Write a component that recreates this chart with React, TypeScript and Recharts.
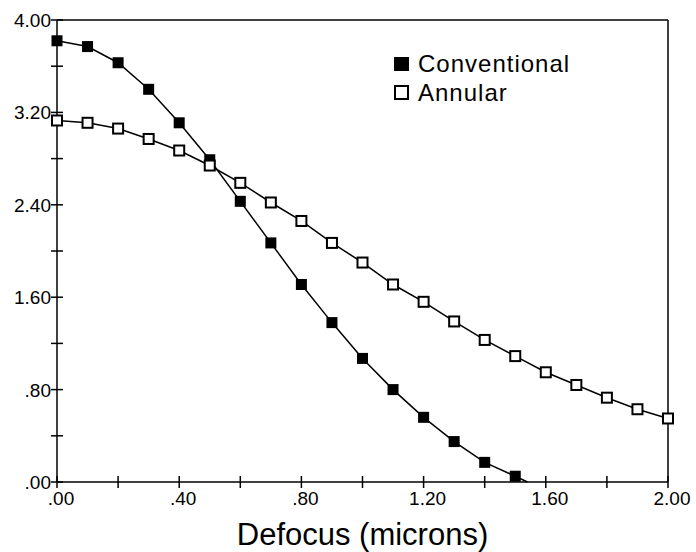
import { LineChart, Line, XAxis, YAxis, ReferenceLine } from 'recharts';

const defocus = [0, 0.1, 0.2, 0.3, 0.4, 0.5, 0.6, 0.7, 0.8, 0.9, 1.0, 1.1, 1.2, 1.3, 1.4, 1.5, 1.6, 1.7, 1.8, 1.9, 2.0];
const conventional = [3.82, 3.77, 3.63, 3.4, 3.11, 2.79, 2.43, 2.07, 1.71, 1.38, 1.07, 0.8, 0.56, 0.35, 0.17, 0.05];
// where the conventional curve meets the x axis (no marker)
const conventionalEnd = { x: 1.54, y: 0 };
const annular = [3.13, 3.11, 3.06, 2.97, 2.87, 2.74, 2.59, 2.42, 2.26, 2.07, 1.9, 1.71, 1.56, 1.39, 1.23, 1.09, 0.95, 0.84, 0.73, 0.63, 0.55];

const xTicks = [0, 0.2, 0.4, 0.6, 0.8, 1.0, 1.2, 1.4, 1.6, 1.8, 2.0];
const yTicks = [0, 0.4, 0.8, 1.2, 1.6, 2.0, 2.4, 2.8, 3.2, 3.6, 4.0];

const FONT = '"Liberation Sans", Arial, Helvetica, sans-serif';

const conventionalData = conventional
  .map((v, i) => ({ x: defocus[i], y: v, end: false }))
  .concat([{ ...conventionalEnd, end: true }]);
const annularData = annular.map((v, i) => ({ x: defocus[i], y: v }));

const fmt = (v: number) => v.toFixed(2).replace(/^0\./, '.');

function XTick(props: any) {
  const { x, y, payload, index } = props;
  return (
    <g>
      <line x1={x} x2={x} y1={y - 6} y2={y + 6} stroke="#000" strokeWidth={1.5} />
      {index % 2 === 0 && (
        <text x={x + 4} y={y + 23} textAnchor="middle" style={{ fontSize: 19, fontFamily: FONT }} fill="#000">
          {fmt(payload.value)}
        </text>
      )}
    </g>
  );
}

function YTick(props: any) {
  const { x, y, payload, index } = props;
  return (
    <g>
      <line x1={x - 6} x2={x + 6} y1={y} y2={y} stroke="#000" strokeWidth={1.5} />
      {index % 2 === 0 && (
        <text x={x - 6} y={y + 7} textAnchor="end" style={{ fontSize: 19, fontFamily: FONT }} fill="#000">
          {fmt(payload.value)}
        </text>
      )}
    </g>
  );
}

function RightTick(props: any) {
  const { x, y } = props;
  return <line x1={x - 6} x2={x + 6} y1={y} y2={y} stroke="#000" strokeWidth={1.5} />;
}

function FilledDot(props: any) {
  const { cx, cy, payload, index } = props;
  if (payload.end) return <g key={index} />;
  return <rect key={index} x={cx - 5.5} y={cy - 5.5} width={11} height={11} fill="#000" />;
}

function OpenDot(props: any) {
  const { cx, cy, index } = props;
  return <rect key={index} x={cx - 5} y={cy - 5} width={10} height={10} fill="#fff" stroke="#000" strokeWidth={2} />;
}

function LegendBox() {
  const row = { display: 'flex', alignItems: 'center', height: 29 };
  return (
    <div style={{ position: 'absolute', left: 394, top: 49, fontFamily: FONT, fontSize: 24, letterSpacing: 1, color: '#000', lineHeight: 1 }}>
      <div style={row}>
        <span style={{ width: 15, height: 14, background: '#000', marginRight: 9, display: 'inline-block' }} />
        Conventional
      </div>
      <div style={row}>
        <span style={{ width: 11, height: 11, border: '2px solid #000', marginRight: 9, display: 'inline-block' }} />
        Annular
      </div>
    </div>
  );
}

export default function App() {
  return (
    <div style={{ position: 'absolute', left: 0, top: 0, width: 696, height: 552, background: '#fff' }}>
      <LineChart width={696} height={552} margin={{ top: 20, right: 0, bottom: 0, left: 0 }}>
        <XAxis
          type="number"
          dataKey="x"
          domain={[0, 2]}
          ticks={xTicks}
          height={70}
          tickSize={0}
          tickMargin={0}
          tick={<XTick />}
          axisLine={{ stroke: '#000', strokeWidth: 1.5 }}
          label={{ value: 'Defocus (microns)', position: 'insideBottom', offset: 7, fontSize: 31, fontFamily: FONT, fill: '#000' }}
        />
        <YAxis
          type="number"
          domain={[0, 4]}
          ticks={yTicks}
          width={57}
          tickSize={0}
          tickMargin={0}
          tick={<YTick />}
          axisLine={{ stroke: '#000', strokeWidth: 1.5 }}
        />
        <YAxis
          yAxisId="right"
          orientation="right"
          type="number"
          domain={[0, 4]}
          ticks={yTicks}
          width={28}
          tickSize={0}
          tickMargin={0}
          tick={<RightTick />}
          axisLine={{ stroke: '#000', strokeWidth: 1.5 }}
        />
        <ReferenceLine y={4} stroke="#000" strokeWidth={1.5} />
        <Line
          data={conventionalData}
          dataKey="y"
          stroke="#000"
          strokeWidth={1.5}
          dot={FilledDot}
          isAnimationActive={false}
        />
        <Line
          data={annularData}
          dataKey="y"
          stroke="#000"
          strokeWidth={1.5}
          dot={OpenDot}
          isAnimationActive={false}
        />
      </LineChart>
      <LegendBox />
    </div>
  );
}
